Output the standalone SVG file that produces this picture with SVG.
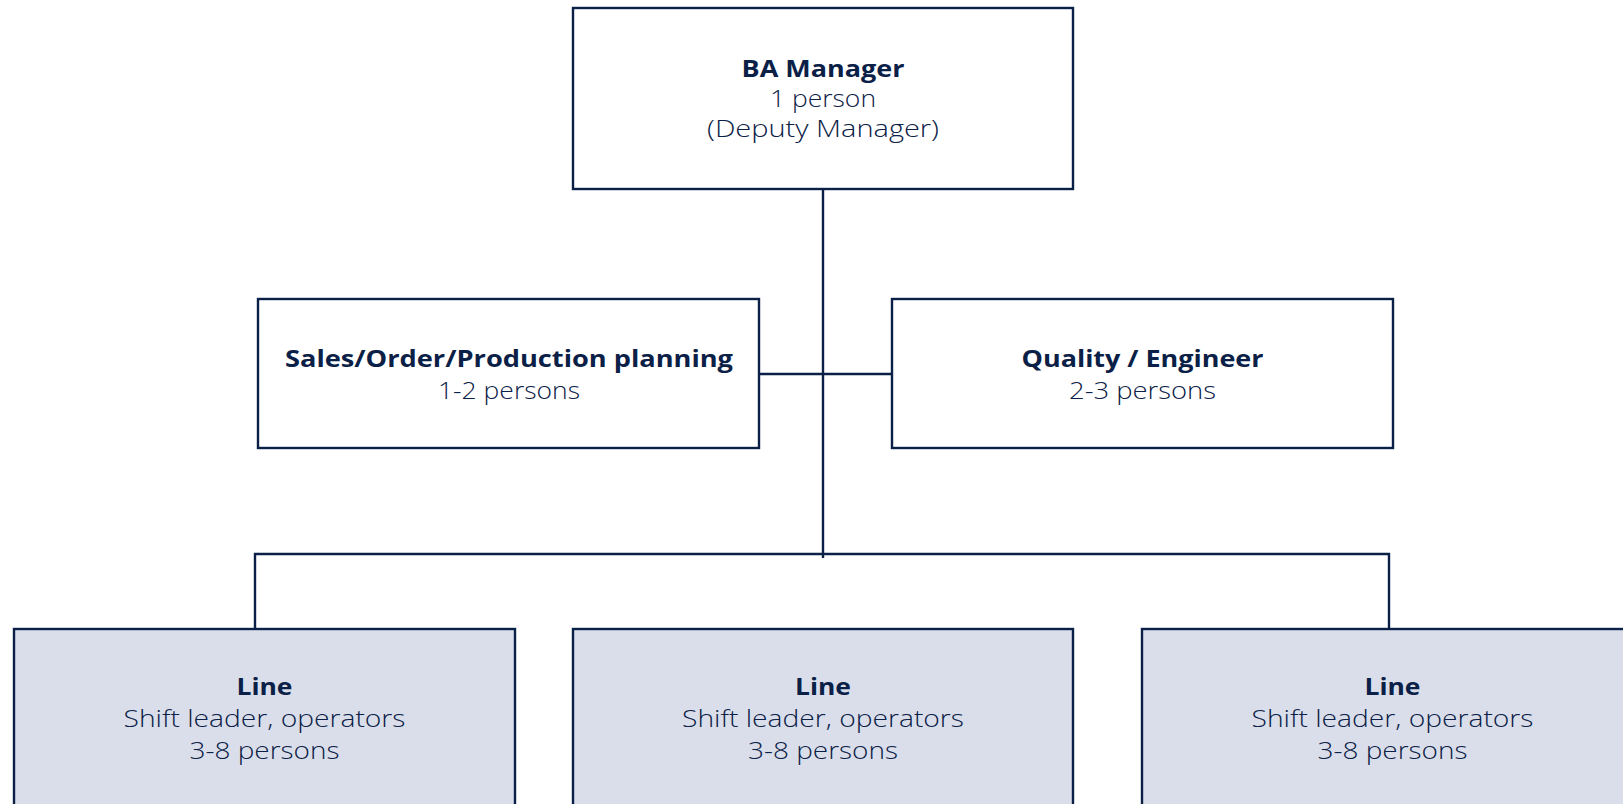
<svg xmlns="http://www.w3.org/2000/svg" width="1623" height="804" viewBox="0 0 1623 804">
<style>
.box{fill:#ffffff;stroke:#0b2046;stroke-width:2.4}
.box2{fill:#d9deea;stroke:#0b2046;stroke-width:2.4}
.conn{fill:none;stroke:#0b2046;stroke-width:2.4}
text{font-family:"Open Sans","Noto Sans",sans-serif;font-size:24px;fill:#0b2046;text-anchor:middle}
.b{font-weight:700}
.r{font-weight:300}
</style>
<rect width="1623" height="804" fill="#ffffff"/>
<g id="connectors">
<path class="conn" d="M823 189 V558"/>
<path class="conn" d="M759 374 H892"/>
<path class="conn" d="M255 629 V554 H1389 V629"/>
</g>
<g id="ba-manager">
<rect class="box" x="573" y="8" width="500" height="181"/>
<text class="b" x="823" y="77" textLength="163" lengthAdjust="spacingAndGlyphs">BA Manager</text>
<text class="r" x="823" y="107" textLength="106" lengthAdjust="spacingAndGlyphs">1 person</text>
<text class="r" x="823" y="137" textLength="232" lengthAdjust="spacingAndGlyphs">(Deputy Manager)</text>
</g>
<g id="sales">
<rect class="box" x="258" y="299" width="501" height="149"/>
<text class="b" x="509" y="367" textLength="448" lengthAdjust="spacingAndGlyphs">Sales/Order/Production planning</text>
<text class="r" x="509" y="399" textLength="142" lengthAdjust="spacingAndGlyphs">1-2 persons</text>
</g>
<g id="quality">
<rect class="box" x="892" y="299" width="501" height="149"/>
<text class="b" x="1142.5" y="367" textLength="242" lengthAdjust="spacingAndGlyphs">Quality / Engineer</text>
<text class="r" x="1142.5" y="399" textLength="147" lengthAdjust="spacingAndGlyphs">2-3 persons</text>
</g>
<g id="line1">
<rect class="box2" x="14" y="629" width="501" height="200"/>
<text class="b" x="264.5" y="695" textLength="56" lengthAdjust="spacingAndGlyphs">Line</text>
<text class="r" x="264.5" y="727" textLength="282" lengthAdjust="spacingAndGlyphs">Shift leader, operators</text>
<text class="r" x="264.5" y="759" textLength="150" lengthAdjust="spacingAndGlyphs">3-8 persons</text>
</g>
<g id="line2">
<rect class="box2" x="573" y="629" width="500" height="200"/>
<text class="b" x="823" y="695" textLength="56" lengthAdjust="spacingAndGlyphs">Line</text>
<text class="r" x="823" y="727" textLength="282" lengthAdjust="spacingAndGlyphs">Shift leader, operators</text>
<text class="r" x="823" y="759" textLength="150" lengthAdjust="spacingAndGlyphs">3-8 persons</text>
</g>
<g id="line3">
<rect class="box2" x="1142" y="629" width="501" height="200"/>
<text class="b" x="1392.5" y="695" textLength="56" lengthAdjust="spacingAndGlyphs">Line</text>
<text class="r" x="1392.5" y="727" textLength="282" lengthAdjust="spacingAndGlyphs">Shift leader, operators</text>
<text class="r" x="1392.5" y="759" textLength="150" lengthAdjust="spacingAndGlyphs">3-8 persons</text>
</g>
</svg>
